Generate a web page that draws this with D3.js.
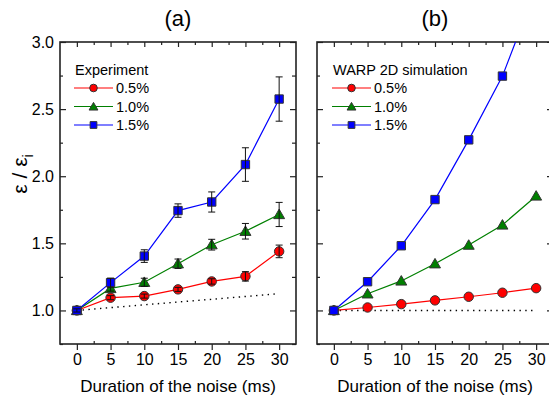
<!DOCTYPE html>
<html><head><meta charset="utf-8">
<script src="https://cdn.jsdelivr.net/npm/d3@7"></script>
<style>body{margin:0;background:#fff} text{font-family:"Liberation Sans",Arial,sans-serif;fill:#000}</style>
</head><body><svg id="c" width="549" height="397"></svg>
<script>
// ---- data ----
const durations=[0,5,10,15,20,25,30];
const xMajorTicks=[0,5,10,15,20,25,30];
const xMinorTicks=[2.5,7.5,12.5,17.5,22.5,27.5];
const yMajorTicks=[1.0,1.5,2.0,2.5,3.0];
const yMinorTicks=[0.75,1.25,1.75,2.25,2.75];
const seriesNames=["0.5%","1.0%","1.5%"];
const panelTitles=["(a)","(b)"];
const legendTitles=["Experiment","WARP 2D simulation"];
const xLabel="Duration of the noise (ms)";

const expLow=[1.00,1.095,1.107,1.157,1.216,1.254,1.44];
const expLowErr=[0.01,0.015,0.015,0.015,0.02,0.035,0.047];
const expMid=[1.00,1.164,1.21,1.348,1.49,1.59,1.715];
const expMidErr=[0.01,0.02,0.03,0.035,0.04,0.058,0.09];
const expHigh=[1.00,1.207,1.405,1.744,1.808,2.087,2.575];
const expHighErr=[0.012,0.034,0.047,0.05,0.075,0.125,0.165];
const expBaseline=[1.0,1.021,1.042,1.063,1.083,1.104,1.125];

const simLow=[1.00,1.022,1.047,1.075,1.102,1.132,1.166];
const simMid=[1.00,1.124,1.22,1.348,1.487,1.637,1.853];
const simHigh=[1.00,1.214,1.482,1.826,2.271,2.746,3.40];
const simBaseline=[1.0,1.0,1.0,1.0,1.0,1.0,1.0];

const colors=["#ff0000","#008000","#0000ff"];
const symbols=[d3.symbolCircle,d3.symbolTriangle,d3.symbolSquare];
const symSizes=[70,52,70];

const panels=[
  {left:60,right:296,title:panelTitles[0],legend:legendTitles[0],
   series:[expLow,expMid,expHigh],errs:[expLowErr,expMidErr,expHighErr],base:expBaseline,
   legX:74},
  {left:317,right:553,title:panelTitles[1],legend:legendTitles[1],
   series:[simLow,simMid,simHigh],errs:null,base:simBaseline,legX:332}
];
const plotTop=42,plotBottom=344;
const svg=d3.select("#c");
const defs=svg.append("defs");

// y label
const yl=svg.append("text").attr("transform","translate(27,174) rotate(-90)")
  .attr("text-anchor","middle").style("font-size","21px");
yl.append("tspan").text("ε / ε");
yl.append("tspan").attr("dy",6).style("font-size","14px").text("i");

panels.forEach((p,pi)=>{
  const x=d3.scaleLinear().domain([-2.5,32.5]).range([p.left,p.right]);
  const y=d3.scaleLinear().domain([0.75,3.0]).range([plotBottom,plotTop]);
  const g=svg.append("g");
  const cid="clip"+pi;
  defs.append("clipPath").attr("id",cid).append("rect")
    .attr("x",p.left).attr("y",plotTop).attr("width",p.right-p.left).attr("height",plotBottom-plotTop);

  // axes
  const ax=(gen,tr)=>{const a=g.append("g").attr("transform",tr).call(gen);
    a.select(".domain").remove(); a.selectAll("line").attr("stroke","#222").attr("stroke-width",1.2); return a;};
  const b1=ax(d3.axisBottom(x).tickValues(xMajorTicks).tickSize(6).tickPadding(4).tickFormat(d3.format("d")),`translate(0,${plotBottom})`);
  b1.selectAll("text").style("font-size","16px").attr("fill","#000");
  ax(d3.axisBottom(x).tickValues(xMinorTicks).tickSize(-3).tickFormat(""),`translate(0,${plotBottom})`);
  ax(d3.axisTop(x).tickValues(xMajorTicks).tickSize(-5).tickFormat(""),`translate(0,${plotTop})`);
  ax(d3.axisTop(x).tickValues(xMinorTicks).tickSize(-3).tickFormat(""),`translate(0,${plotTop})`);
  const l1=ax(d3.axisLeft(y).tickValues(yMajorTicks).tickSize(-6).tickPadding(6).tickFormat(pi===0?d3.format(".1f"):""),`translate(${p.left},0)`);
  l1.selectAll("text").style("font-size","16px").attr("fill","#000").attr("x",-6);
  ax(d3.axisLeft(y).tickValues(yMinorTicks).tickSize(-3).tickFormat(""),`translate(${p.left},0)`);
  ax(d3.axisRight(y).tickValues(yMajorTicks).tickSize(-6).tickFormat(""),`translate(${p.right},0)`);
  ax(d3.axisRight(y).tickValues(yMinorTicks).tickSize(-4).tickFormat(""),`translate(${p.right},0)`);
  g.append("rect").attr("x",p.left).attr("y",plotTop).attr("width",p.right-p.left).attr("height",plotBottom-plotTop)
    .attr("fill","none").attr("stroke","#222").attr("stroke-width",1.6);

  // title & x label
  const cx=(p.left+p.right)/2;
  g.append("text").attr("x",cx).attr("y",26).attr("text-anchor","middle").style("font-size","22px").text(p.title);
  g.append("text").attr("x",pi===0?cx:435).attr("y",392).attr("text-anchor","middle").style("font-size","17px").text(xLabel);

  const plot=g.append("g").attr("clip-path",`url(#${cid})`);
  // dotted baseline
  plot.append("path").datum(p.base)
    .attr("d",d3.line().x((d,i)=>x(durations[i])).y(d=>y(d)))
    .attr("fill","none").attr("stroke","#000").attr("stroke-width",1.4).attr("stroke-dasharray","1.4,4.4");

  p.series.forEach((s,si)=>{
    plot.append("path").datum(s)
      .attr("d",d3.line().x((d,i)=>x(durations[i])).y(d=>y(d)))
      .attr("fill","none").attr("stroke",colors[si]).attr("stroke-width",1.2);
    plot.selectAll(null).data(s).enter().append("path")
      .attr("d",d3.symbol().type(symbols[si]).size(symSizes[si]))
      .attr("transform",(d,i)=>`translate(${x(durations[i])},${y(d)+(si===1?1:0)})`)
      .attr("fill",colors[si]).attr("stroke","#333").attr("stroke-width",1);
    if(p.errs){
      const e=p.errs[si];
      s.forEach((d,i)=>{
        const xx=x(durations[i]),y1=y(d+e[i]),y2=y(d-e[i]);
        plot.append("line").attr("x1",xx).attr("x2",xx).attr("y1",y1).attr("y2",y2).attr("stroke","#111").attr("stroke-width",1);
        [y1,y2].forEach(yy=>plot.append("line").attr("x1",xx-3.5).attr("x2",xx+3.5).attr("y1",yy).attr("y2",yy).attr("stroke","#111").attr("stroke-width",1));
      });
    }
  });

  // legend
  g.append("text").attr("x",p.legX+1).attr("y",75).style("font-size","14.5px").text(p.legend);
  const rows=[88,106.5,125];
  seriesNames.forEach((n,si)=>{
    g.append("line").attr("x1",p.legX).attr("x2",p.legX+39).attr("y1",rows[si]).attr("y2",rows[si])
      .attr("stroke",colors[si]).attr("stroke-width",1.2);
    g.append("path").attr("d",d3.symbol().type(symbols[si]).size(symSizes[si]*0.65))
      .attr("transform",`translate(${p.legX+19.5},${rows[si]+(si===1?1:0)})`)
      .attr("fill",colors[si]).attr("stroke","#333").attr("stroke-width",1);
    g.append("text").attr("x",p.legX+42).attr("y",rows[si]).attr("dy","0.35em").style("font-size","14.5px").text(n);
  });
});
</script></body></html>
